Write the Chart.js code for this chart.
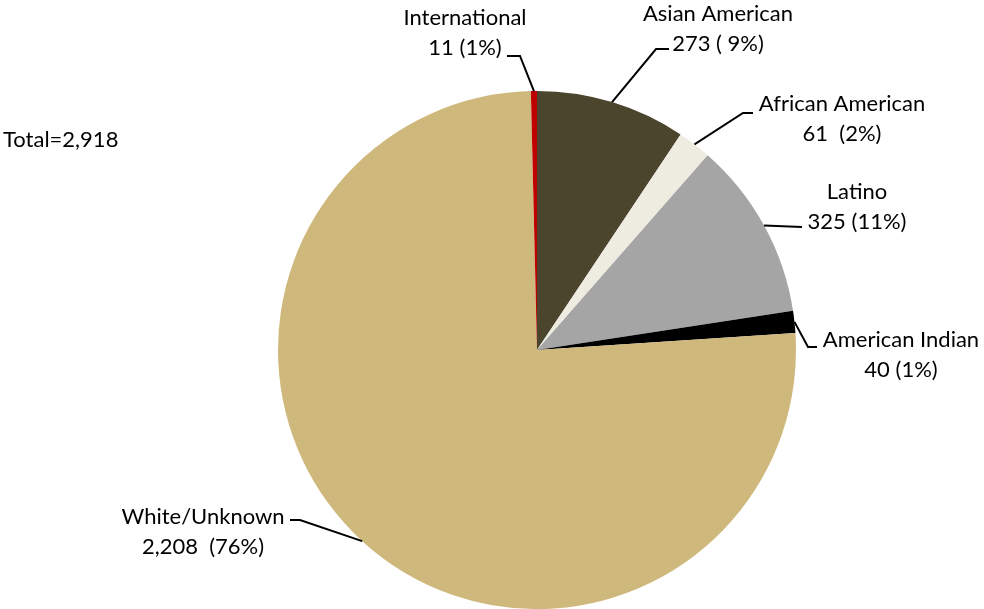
<!DOCTYPE html>
<html><head><meta charset="utf-8">
<script src="https://cdn.jsdelivr.net/npm/chart.js@4"></script>
<style>html,body{margin:0;padding:0;background:#fff}#wrap{width:984px;height:609px;position:relative}</style>
</head><body><div id="wrap"><canvas id="c" width="984" height="609"></canvas></div>
<script>
const categories = ["Asian American","African American","Latino","American Indian","White/Unknown","International"];
const values = [273, 61, 325, 40, 2208, 11];
const valueLabels = ["273 ( 9%)","61  (2%)","325 (11%)","40 (1%)","2,208  (76%)","11 (1%)"];
const colors = ["#4a452c","#eeece1","#a5a5a5","#000000","#cfb87c","#c00000"];
const totalLabel = "Total=2,918";

// label layout: text centre x, first line y, elbow path (from arc midpoint -> elbow -> end)
const labelLayout = [
  {tx:718, ty:14, elbow:[656,49], end:[669,49]},
  {tx:842, ty:104, elbow:[743,113], end:[753,113]},
  {tx:857, ty:192, elbow:null, end:[802,227]},
  {tx:901, ty:340, elbow:[808,347], end:[817,347]},
  {tx:203, ty:517, elbow:[300,520], end:[290,520]},
  {tx:465, ty:18, elbow:[520,56], end:[507,56]}
];
const FONT = '22px Lato, "Open Sans", sans-serif';

const labelPlugin = {
  id:'labels',
  afterDraw(chart){
    const ctx = chart.ctx;
    const meta = chart.getDatasetMeta(0);
    ctx.save();
    ctx.strokeStyle = '#000'; ctx.lineWidth = 2;
    meta.data.forEach((arc,i)=>{
      const p = arc.getProps(['x','y','startAngle','endAngle','outerRadius'],true);
      const mid = (p.startAngle+p.endAngle)/2;
      const ax = p.x + Math.cos(mid)*p.outerRadius;
      const ay = p.y + Math.sin(mid)*p.outerRadius;
      const L = labelLayout[i];
      ctx.beginPath();
      ctx.moveTo(ax,ay);
      if (L.elbow) ctx.lineTo(L.elbow[0],L.elbow[1]);
      ctx.lineTo(L.end[0],L.end[1]);
      ctx.stroke();
      ctx.fillStyle = '#000';
      ctx.font = FONT;
      ctx.textAlign = 'center'; ctx.textBaseline = 'middle';
      ctx.fillText(categories[i], L.tx, L.ty);
      ctx.fillText(valueLabels[i], L.tx, L.ty+30);
    });
    ctx.textAlign = 'left';
    ctx.fillText(totalLabel, 3, 140);
    ctx.restore();
  }
};

new Chart(document.getElementById('c'), {
  type:'pie',
  data:{labels:categories, datasets:[{data:values, backgroundColor:colors, borderWidth:0}]},
  options:{
    responsive:false, animation:false,
    layout:{padding:{left:278,right:188,top:91,bottom:0}},
    plugins:{legend:{display:false}, tooltip:{enabled:false}}
  },
  plugins:[labelPlugin]
});
</script></body></html>
